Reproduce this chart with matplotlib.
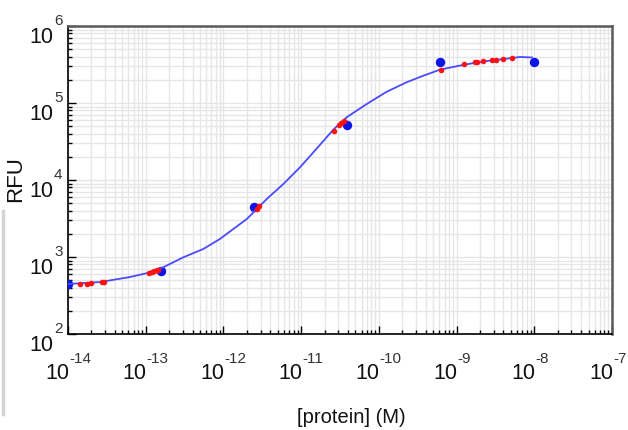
import matplotlib
matplotlib.use("Agg")
import matplotlib.pyplot as plt
from matplotlib.lines import Line2D
from matplotlib.ticker import LogLocator, NullFormatter

# fitted curve
fit_conc = [1.0e-14, 2.6e-14, 6.3e-14, 1.1e-13, 1.68e-13, 3.05e-13, 5.5e-13, 9.0e-13,
            1.34e-12, 2.0e-12, 2.68e-12, 3.61e-12, 5.9e-12, 9.66e-12, 1.58e-11, 2.59e-11,
            3.85e-11, 6.98e-11, 1.26e-10, 2.28e-10, 3.73e-10, 6.12e-10, 1.0e-9, 1.49e-9,
            2.19e-9, 5.18e-9, 6.56e-9, 9.35e-9]
fit_rfu = [446, 473, 550, 625, 735, 991, 1270, 1713,
           2310, 3115, 4200, 5665, 8870, 14600, 25500, 45000,
           65200, 97000, 140000, 186000, 226000, 271000, 300000, 324000,
           346000, 384000, 396000, 390000]

# small red points
red_conc = [1.43e-14, 1.76e-14, 1.98e-14, 2.74e-14, 2.9e-14, 1.10e-13, 1.19e-13, 1.28e-13,
            1.38e-13, 1.44e-13, 2.68e-12, 2.87e-12, 2.65e-11, 3.1e-11, 3.3e-11, 3.59e-11,
            6.3e-10, 1.26e-9, 1.73e-9, 1.85e-9, 2.21e-9, 2.88e-9, 3.22e-9, 4.0e-9, 5.22e-9]
red_rfu = [445, 450, 453, 473, 473, 620, 639, 658,
           672, 678, 4200, 4550, 43700, 51800, 54500, 57800,
           271000, 318000, 338000, 338000, 348000, 359000, 359000, 372000, 384000]

# large blue points
blue_conc = [1.0e-14, 1.57e-13, 2.51e-12, 3.93e-11, 6.12e-10, 1.0e-8]
blue_rfu = [446, 658, 4460, 52200, 340000, 340000]

x_exps = ["-14", "-13", "-12", "-11", "-10", "-9", "-8", "-7"]
y_exps = ["2", "3", "4", "5", "6"]

FONT = ["Liberation Sans Narrow", "Liberation Sans", "DejaVu Sans"]

fig = plt.figure(figsize=(6.28, 4.31), dpi=100)
ax = fig.add_axes([68 / 628, 1 - 335 / 431, 544 / 628, 308 / 431])

ax.plot(blue_conc, blue_rfu, "o", color="#0c14e8", ms=6.8, mec="none", zorder=3)
ax.plot(fit_conc, fit_rfu, "-", color="#4a4aff", lw=1.3, zorder=4)
ax.plot(red_conc, red_rfu, "o", color="#ff1010", ms=4.0, mec="none", zorder=5)

ax.set_xscale("log")
ax.set_yscale("log")
ax.set_xlim(1e-14, 1e-7)
ax.set_ylim(1e2, 1e6)

xticks = [10.0 ** int(e) for e in x_exps]
yticks = [10.0 ** int(e) for e in y_exps]
ax.set_xticks(xticks)
ax.set_yticks(yticks)
ax.xaxis.set_minor_locator(LogLocator(base=10, subs=range(2, 10), numticks=50))
ax.yaxis.set_minor_locator(LogLocator(base=10, subs=range(2, 10), numticks=50))
ax.set_xticklabels([])
ax.set_yticklabels([])
ax.xaxis.set_minor_formatter(NullFormatter())
ax.yaxis.set_minor_formatter(NullFormatter())

ax.tick_params(which="both", direction="in", top=False, right=False, color="black", width=1)
ax.tick_params(which="major", length=5.8)
ax.tick_params(which="minor", length=2.9)

ax.grid(True, which="both", color="#e6e6e6", lw=1)
ax.set_axisbelow(True)

for s in ["left", "bottom"]:
    ax.spines[s].set_color("black")
    ax.spines[s].set_linewidth(1.2)
for s in ["top", "right"]:
    ax.spines[s].set_color("#5a5a5a")
    ax.spines[s].set_linewidth(1.8)

# tick labels as base + raised exponent
for v, e in zip(xticks, x_exps):
    ax.annotate("10", xy=(v, 0), xycoords=ax.get_xaxis_transform(), xytext=(1, -44),
                textcoords="offset pixels", ha="right", va="baseline",
                fontsize=15.5, family=FONT, color="#111111")
    ax.annotate(e, xy=(v, 0), xycoords=ax.get_xaxis_transform(), xytext=(1, -28),
                textcoords="offset pixels", ha="left", va="baseline",
                fontsize=11, family=FONT, color="#333333")
for v, e in zip(yticks, y_exps):
    ax.annotate("10", xy=(0, v), xycoords=ax.get_yaxis_transform(), xytext=(-15, -16),
                textcoords="offset pixels", ha="right", va="baseline",
                fontsize=15.5, family=FONT, color="#111111", annotation_clip=False)
    ax.annotate(e, xy=(0, v), xycoords=ax.get_yaxis_transform(), xytext=(-14, 2),
                textcoords="offset pixels", ha="left", va="baseline",
                fontsize=11, family=FONT, color="#333333", annotation_clip=False)

fig.text(351 / 628, 1 - 423 / 431, "[protein] (M)", ha="center", va="baseline",
         fontsize=14.5, family=FONT, color="#111111")
fig.text(15.5 / 628, 1 - 179 / 431, "RFU", ha="center", va="center", rotation=90,
         fontsize=16, family=["Liberation Sans", "DejaVu Sans"], color="#111111")

# faint slide edge on the left
fig.add_artist(Line2D([3 / 628, 3 / 628], [1 - 212 / 431, 1 - 415 / 431],
                      transform=fig.transFigure, color="#d4d4d4", lw=2.5))

fig.savefig("out.png", dpi=100)
plt.close(fig)
